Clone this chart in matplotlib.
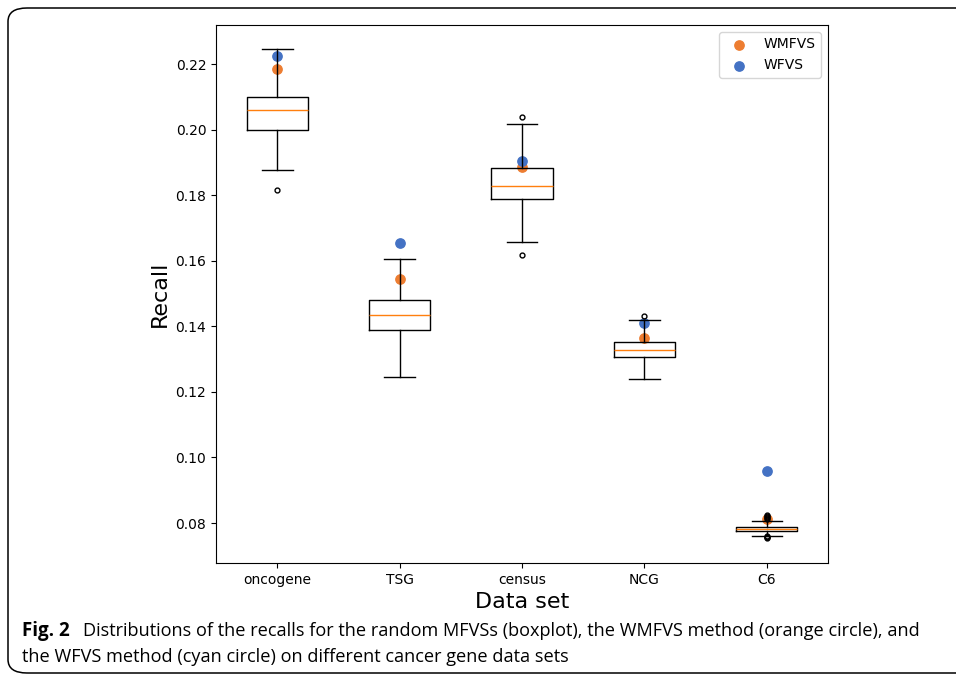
import matplotlib
matplotlib.use('Agg')
import matplotlib.pyplot as plt
from matplotlib.patches import FancyBboxPatch

# наборы данных
datasets = ['oncogene', 'TSG', 'census', 'NCG', 'C6']

# статистики боксплотов (случайные MFVS)
whislo = [0.1877, 0.1245, 0.1657, 0.1238, 0.0761]
q1 = [0.2000, 0.1389, 0.1788, 0.1305, 0.0777]
med = [0.2061, 0.1435, 0.1828, 0.1329, 0.0783]
q3 = [0.2100, 0.1481, 0.1884, 0.1353, 0.0789]
whishi = [0.2246, 0.1605, 0.2018, 0.1419, 0.0806]
fliers = [[0.1816], [], [0.2038, 0.1618], [0.1430],
          [0.0812, 0.0815, 0.0818, 0.0821, 0.0823, 0.0754, 0.0756, 0.0758, 0.0759]]

# результаты методов
wmfvs = [0.2185, 0.1544, 0.1886, 0.1364, 0.0811]
wfvs = [0.2224, 0.1654, 0.1904, 0.1411, 0.0960]

W, H = 956, 674
fig = plt.figure(figsize=(W / 100, H / 100), dpi=100)
ax = fig.add_axes([216 / W, 1 - 563 / H, (828 - 216) / W, (563 - 25) / H])

pos = list(range(1, len(datasets) + 1))
ax.scatter(pos, wmfvs, s=45, color='#ED7D31', label='WMFVS', zorder=2)
ax.scatter(pos, wfvs, s=45, color='#4472C4', label='WFVS', zorder=2)

stats = []
for i in range(len(datasets)):
    stats.append(dict(whislo=whislo[i], q1=q1[i], med=med[i], q3=q3[i],
                      whishi=whishi[i], fliers=fliers[i]))
ax.bxp(stats, positions=pos, widths=0.5,
       flierprops=dict(marker='o', markersize=3.5, markerfacecolor='none',
                       markeredgecolor='black'),
       medianprops=dict(color='#ff7f0e'), zorder=3)

ax.set_xticks(pos)
ax.set_xticklabels(datasets, family='DejaVu Sans')
ax.set_xlim(0.5, 5.5)
ax.set_ylim(0.0678, 0.2319)
ax.set_yticks([0.08, 0.10, 0.12, 0.14, 0.16, 0.18, 0.20, 0.22])
ax.set_xlabel('Data set', fontsize=16, labelpad=4)
ax.set_ylabel('Recall', fontsize=16)
ax.legend(loc='upper right')

# рамка вокруг рисунка
frame = FancyBboxPatch((8 / W, 1 - 673 / H), 1.2, (673 - 8) / H,
                       boxstyle='round,pad=0,rounding_size=0.02',
                       transform=fig.transFigure, fill=False,
                       edgecolor='black', linewidth=1.1, clip_on=False)
fig.patches.append(frame)

# подпись
cap_font = ['Open Sans', 'DejaVu Sans']
fig.text(22 / W, 1 - 636 / H, 'Fig. 2', fontsize=13.5, fontweight='bold',
         family=cap_font, va='baseline')
fig.text(83 / W, 1 - 636 / H,
         'Distributions of the recalls for the random MFVSs (boxplot), the WMFVS method (orange circle), and',
         fontsize=13.1, family=cap_font, va='baseline')
fig.text(22 / W, 1 - 662 / H,
         'the WFVS method (cyan circle) on different cancer gene data sets',
         fontsize=13.1, family=cap_font, va='baseline')

fig.savefig('out.png', dpi=100)
